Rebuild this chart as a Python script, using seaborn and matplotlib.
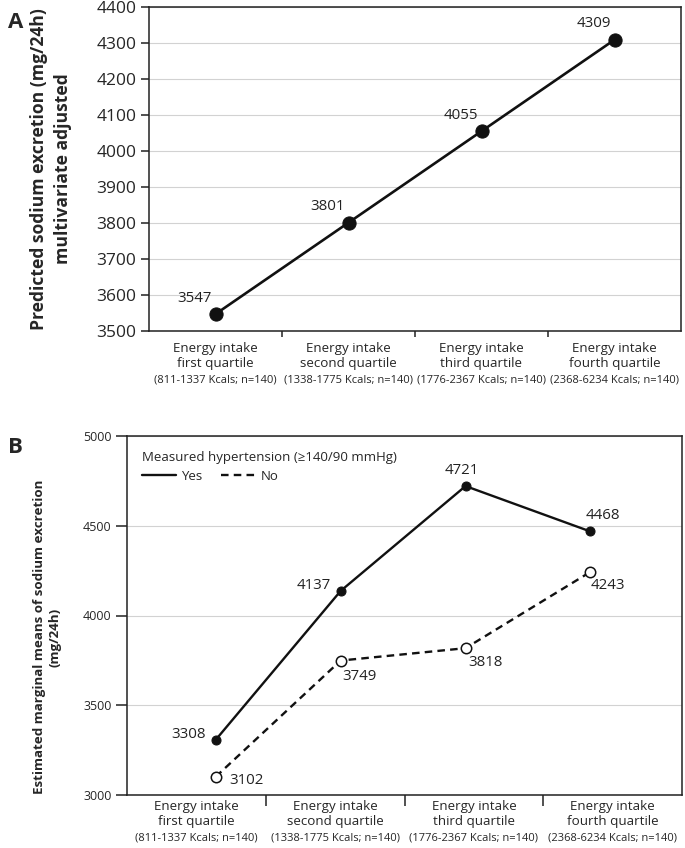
import numpy as np
import pandas as pd
import seaborn as sns
import matplotlib.pyplot as plt
from matplotlib.lines import Line2D

# ---- data ----
quartile_labels = ["Energy intake\nfirst quartile", "Energy intake\nsecond quartile",
                   "Energy intake\nthird quartile", "Energy intake\nfourth quartile"]
kcal_ranges = ["(811-1337 Kcals; n=140)", "(1338-1775 Kcals; n=140)",
               "(1776-2367 Kcals; n=140)", "(2368-6234 Kcals; n=140)"]
predicted_sodium = [3547, 3801, 4055, 4309]
hypertension_yes = [3308, 4137, 4721, 4468]
hypertension_no = [3102, 3749, 3818, 4243]
yticks_a = [3500, 3600, 3700, 3800, 3900, 4000, 4100, 4200, 4300, 4400]
yticks_b = [3000, 3500, 4000, 4500, 5000]

# label offsets (points) for the value annotations
OFFSETS_A = [(-15, 11.5)] * 4
OFFSETS_YES = [(-7, 4, "right"), (-7, 4, "right"), (-3, 11.5, "center"), (9, 11.5, "center")]
OFFSETS_NO = [(10, -2.5, "left"), (1, -11.5, "left"), (2, -10, "left"), (0, -10, "left")]

sns.set_theme(style="white")
plt.rcParams["font.family"] = ["Open Sans", "DejaVu Sans"]
plt.rcParams["axes.edgecolor"] = "#222222"
plt.rcParams["axes.linewidth"] = 1.1

fig = plt.figure(figsize=(6.85, 8.48), dpi=100)
ax_a = fig.add_axes([149 / 685, 1 - 331 / 848, (681 - 149) / 685, (331 - 7) / 848])
ax_b = fig.add_axes([127 / 685, 1 - 795 / 848, (682 - 127) / 685, (795 - 436) / 848])


def style_axis(ax, yticks, tick_size, label_pad, kcal_offset, xtick_len, ytick_len):
    n_bands = len(quartile_labels)
    ax.set_xlim(0, n_bands)
    ax.set_ylim(yticks[0], yticks[-1])
    ax.set_yticks(yticks)
    ax.set_yticklabels([str(t) for t in yticks], fontsize=tick_size)
    ax.yaxis.grid(True, color="#d2d2d2", linewidth=0.8)
    ax.set_axisbelow(True)
    # band boundaries as major ticks, band labels on minor ticks
    ax.set_xticks(np.arange(1, n_bands))
    ax.set_xticklabels([])
    ax.set_xticks(np.arange(n_bands) + 0.5, minor=True)
    ax.set_xticklabels(quartile_labels, minor=True, fontsize=9.6, linespacing=1.2)
    ax.tick_params(axis="x", which="major", direction="out", length=xtick_len, width=1.1,
                   color="#222222", bottom=True)
    ax.tick_params(axis="x", which="minor", length=0, pad=label_pad, bottom=True)
    ax.tick_params(axis="y", direction="out", length=ytick_len, width=1.1, color="#222222",
                   left=True, pad=3)
    for i, txt in enumerate(kcal_ranges):
        ax.annotate(txt, xy=(i + 0.5, 0), xycoords=("data", "axes fraction"),
                    xytext=(0, kcal_offset), textcoords="offset points",
                    ha="center", va="center", fontsize=8)
    for sp in ax.spines.values():
        sp.set_visible(True)


# ---- panel A ----
x_a = np.arange(4) + 0.5
df_a = pd.DataFrame({"x": x_a, "sodium": predicted_sodium})
sns.lineplot(data=df_a, x="x", y="sodium", ax=ax_a, color="#111111", linewidth=1.9,
             marker="o", markersize=9.5, markeredgecolor="#111111")
style_axis(ax_a, yticks_a, 12.5, label_pad=8, kcal_offset=-35, xtick_len=4.5, ytick_len=6)
ax_a.set_xlabel("")
ax_a.set_ylabel("Predicted sodium excretion (mg/24h)\nmultivariate adjusted",
                fontsize=12.6, fontweight="bold", linespacing=1.45)
ax_a.yaxis.set_label_coords(-0.145, 0.5)
for xv, yv, (dx, dy) in zip(x_a, predicted_sodium, OFFSETS_A):
    ax_a.annotate(str(yv), (xv, yv), xytext=(dx, dy), textcoords="offset points",
                  ha="center", va="center", fontsize=10.8, color="#222222")

# ---- panel B ----
x_b = 0.64 + 0.9 * np.arange(4)
df_b = pd.DataFrame({"x": np.concatenate([x_b, x_b]),
                     "sodium": hypertension_yes + hypertension_no,
                     "hypertension": ["Yes"] * 4 + ["No"] * 4})
sns.lineplot(data=df_b[df_b.hypertension == "Yes"], x="x", y="sodium", ax=ax_b,
             color="#111111", linewidth=1.7, marker="o", markersize=6.5,
             markeredgecolor="#111111")
sns.lineplot(data=df_b[df_b.hypertension == "No"], x="x", y="sodium", ax=ax_b,
             color="#111111", linewidth=1.7, linestyle=(0, (3.2, 2.2)), marker="o",
             markersize=7.5, markerfacecolor="white", markeredgecolor="#111111",
             markeredgewidth=1.1)
style_axis(ax_b, yticks_b, 9, label_pad=3.5, kcal_offset=-31, xtick_len=8, ytick_len=8)
ax_b.set_xlabel("")
ax_b.set_ylabel("Estimated marginal means of sodium excretion\n(mg/24h)",
                fontsize=9.6, fontweight="bold", linespacing=1.3)
ax_b.yaxis.set_label_coords(-0.118, 0.44)
for xv, yv, (dx, dy, ha) in zip(x_b, hypertension_yes, OFFSETS_YES):
    ax_b.annotate(str(yv), (xv, yv), xytext=(dx, dy), textcoords="offset points",
                  ha=ha, va="center", fontsize=10.8, color="#222222")
for xv, yv, (dx, dy, ha) in zip(x_b, hypertension_no, OFFSETS_NO):
    ax_b.annotate(str(yv), (xv, yv), xytext=(dx, dy), textcoords="offset points",
                  ha=ha, va="center", fontsize=10.8, color="#222222")

handles = [Line2D([], [], color="#111111", lw=1.7),
           Line2D([], [], color="#111111", lw=1.7, ls=(0, (3.2, 2.2)))]
leg = ax_b.legend(handles, ["Yes", "No"], title="Measured hypertension (\u2265140/90 mmHg)",
                  loc="upper left", bbox_to_anchor=(0.0, 1.0), ncol=2, frameon=False,
                  fontsize=9.5, title_fontsize=9.5, handlelength=2.6, columnspacing=1.4,
                  handletextpad=0.4, alignment="left", borderaxespad=0.7,
                  labelspacing=0.5)

# panel letters
fig.text(8 / 685, 1 - 22 / 848, "A", fontsize=16, fontweight="bold", va="center")
fig.text(8 / 685, 1 - 447 / 848, "B", fontsize=16, fontweight="bold", va="center")

fig.savefig("out.png", dpi=100)
